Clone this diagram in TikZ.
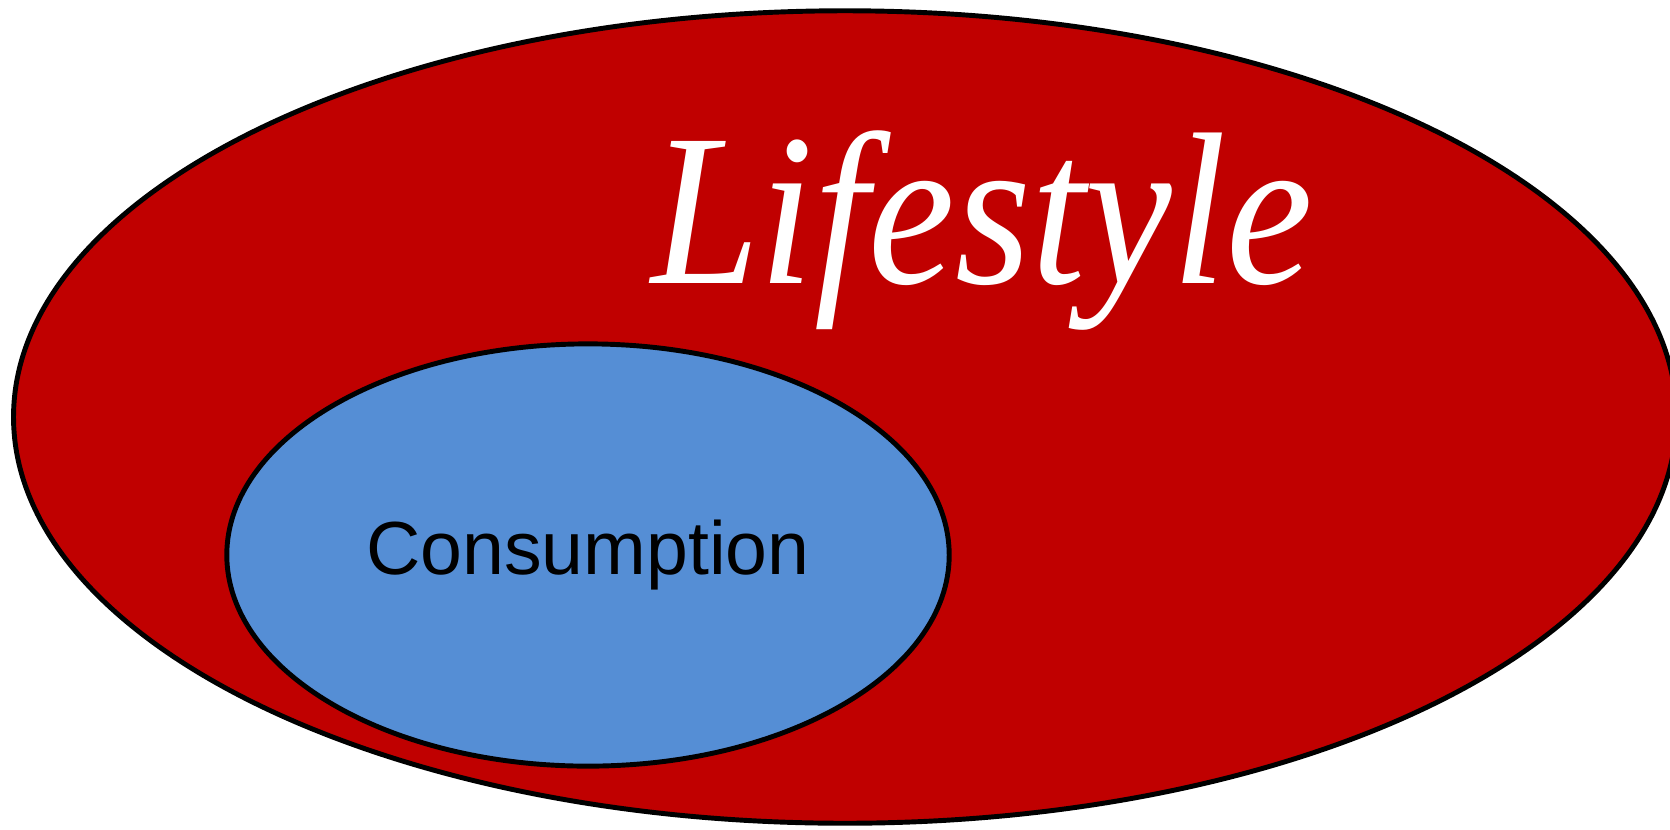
\documentclass[tikz,border=0pt]{standalone}
\usepackage{fontspec}
\setmainfont{Liberation Serif}
\newfontfamily\arialfont{Liberation Sans}
\usepackage{tikz}
\usetikzlibrary{shapes.geometric}
\definecolor{lifered}{RGB}{192,0,0}
\definecolor{consblue}{RGB}{85,142,213}

\begin{document}
\begin{tikzpicture}[line cap=round,line join=round,x=0.01cm,y=0.01cm,
  setring/.style={ellipse,draw=black,line width=1.4pt,inner sep=0pt}]
\useasboundingbox (0,0) rectangle (1670,829);
\clip (0,0) rectangle (1670,829);
\node [setring,fill=lifered,minimum width=16.62cm,minimum height=8.12cm] (lifestyle) at (845,412) {};
\node [setring,fill=consblue,minimum width=7.22cm,minimum height=4.22cm,
  font=\arialfont\fontsize{21.4}{25}\selectfont] (consumption) at (588,274) {Consumption};
\node [anchor=base,text=white,xscale=0.9,font=\fontsize{61.7}{70}\selectfont\itshape] (lifestylelabel) at (982,546) {Lifestyle};
\end{tikzpicture}
\end{document}
